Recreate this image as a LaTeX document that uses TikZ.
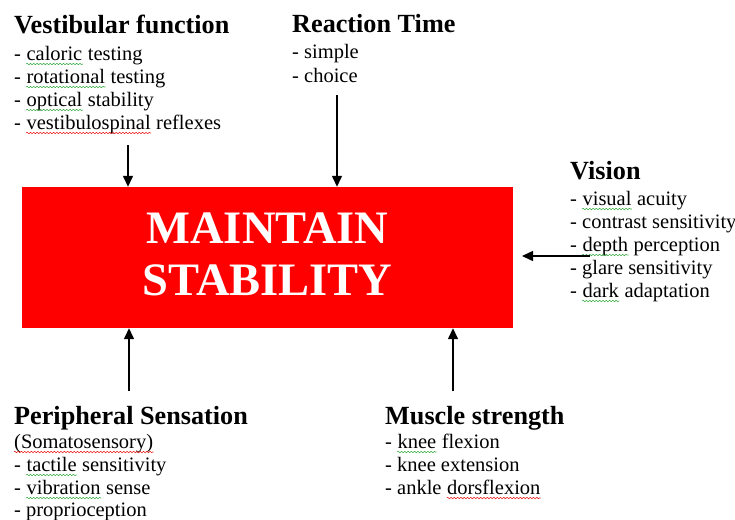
\documentclass[tikz,border=0pt]{standalone}
\usepackage{fontspec}
\setmainfont{Liberation Serif}
\usetikzlibrary{arrows.meta,decorations.pathmorphing}

\definecolor{sqgreen}{RGB}{60,175,70}
\definecolor{sqred}{RGB}{235,30,30}

% one word space of the list font, kept as a kern so it survives at a node edge
\newcommand\wsp{\kern5.125pt}

\begin{document}
\begin{tikzpicture}[x=1pt,y=-1pt,
  heading/.style={anchor=base west,inner sep=0pt,font=\fontsize{26.2}{30}\selectfont\bfseries},
  item/.style={anchor=base west,inner sep=0pt,font=\fontsize{20.5}{23.3}\selectfont},
  wave/.style={line width=0.55pt,line join=round,line cap=round,decorate,
    decoration={zigzag,amplitude=0.8pt,segment length=3.3pt}},
  gwave/.style={wave,draw=sqgreen},
  rwave/.style={wave,draw=sqred},
  arr/.style={line width=1.4pt,-{Triangle[length=11pt,width=10pt]}}]
\useasboundingbox (0,0) rectangle (735,519);

% central block
\node[fill=red,minimum width=491pt,minimum height=141pt,inner sep=0pt] (box) at (267.5,257.5) {};
\node[align=center,text=white,inner sep=0pt,font=\fontsize{46.5}{52}\selectfont\bfseries] (stab) at (267.5,254) {MAINTAIN\\STABILITY};

% Vestibular function
\node[heading] (vesT) at (14,34) {Vestibular function};
\node[item] (ves1) at (14,60) {-\wsp};
\node[item] (ves1w) at (ves1.base east) {caloric};
\node[item] (ves1r) at (ves1w.base east) {\wsp testing};
\node[item] (ves2) at (14,83) {-\wsp};
\node[item] (ves2w) at (ves2.base east) {rotational};
\node[item] (ves2r) at (ves2w.base east) {\wsp testing};
\node[item] (ves3) at (14,106) {-\wsp};
\node[item] (ves3w) at (ves3.base east) {optical};
\node[item] (ves3r) at (ves3w.base east) {\wsp stability};
\node[item] (ves4) at (14,129) {-\wsp};
\node[item] (ves4w) at (ves4.base east) {vestibulospinal};
\node[item] (ves4r) at (ves4w.base east) {\wsp reflexes};

% Reaction Time
\node[heading] (reaT) at (292,33) {Reaction Time};
\node[item] (rea1) at (292,59) {- simple};
\node[item] (rea2) at (292,82) {- choice};

% Vision
\node[heading] (visT) at (570,179) {Vision};
\node[item] (vis1) at (570,205) {-\wsp};
\node[item] (vis1w) at (vis1.base east) {visual};
\node[item] (vis1r) at (vis1w.base east) {\wsp acuity};
\node[item] (vis2) at (570,228) {- contrast sensitivity};
\node[item] (vis3) at (570,251) {-\wsp};
\node[item] (vis3w) at (vis3.base east) {depth};
\node[item] (vis3r) at (vis3w.base east) {\wsp perception};
\node[item] (vis4) at (570,274) {- glare sensitivity};
\node[item] (vis5) at (570,297) {-\wsp};
\node[item] (vis5w) at (vis5.base east) {dark};
\node[item] (vis5r) at (vis5w.base east) {\wsp adaptation};

% Peripheral Sensation
\node[heading] (perT) at (14,424) {Peripheral Sensation};
\node[item] (per1w) at (14,448) {(Somatosensory)};
\node[item] (per2) at (14,471) {-\wsp};
\node[item] (per2w) at (per2.base east) {tactile};
\node[item] (per2r) at (per2w.base east) {\wsp sensitivity};
\node[item] (per3) at (14,494) {-\wsp};
\node[item] (per3w) at (per3.base east) {vibration};
\node[item] (per3r) at (per3w.base east) {\wsp sense};
\node[item] (per4) at (14,516) {- proprioception};

% Muscle strength
\node[heading] (musT) at (385,424) {Muscle strength};
\node[item] (mus1) at (385,448) {-\wsp};
\node[item] (mus1w) at (mus1.base east) {knee};
\node[item] (mus1r) at (mus1w.base east) {\wsp flexion};
\node[item] (mus2) at (385,471) {- knee extension};
\node[item] (mus3) at (385,494) {- ankle\wsp};
\node[item] (mus3w) at (mus3.base east) {dorsflexion};

% proofing underlines
\foreach \w in {ves1w,ves2w,ves3w,vis1w,vis3w,vis5w,per2w,per3w,mus1w}
  \draw[gwave] ([yshift=-4pt]\w.base west) -- ([yshift=-4pt]\w.base east);
\foreach \w in {ves4w,per1w,mus3w}
  \draw[rwave] ([yshift=-4pt]\w.base west) -- ([yshift=-4pt]\w.base east);

% arrow tails
\coordinate (vesA) at (128,145);
\coordinate (reaA) at (337,95);
\coordinate (visA) at (590,256);
\coordinate (visB) at (522,256);
\coordinate (perA) at (129,391);
\coordinate (musA) at (453,391);

\draw[arr] (vesA) -- (vesA |- box.north);
\draw[arr] (reaA) -- (reaA |- box.north);
\draw[arr] (visA) -- (visB);
\draw[arr] (perA) -- (perA |- box.south);
\draw[arr] (musA) -- (musA |- box.south);
\end{tikzpicture}
\end{document}
